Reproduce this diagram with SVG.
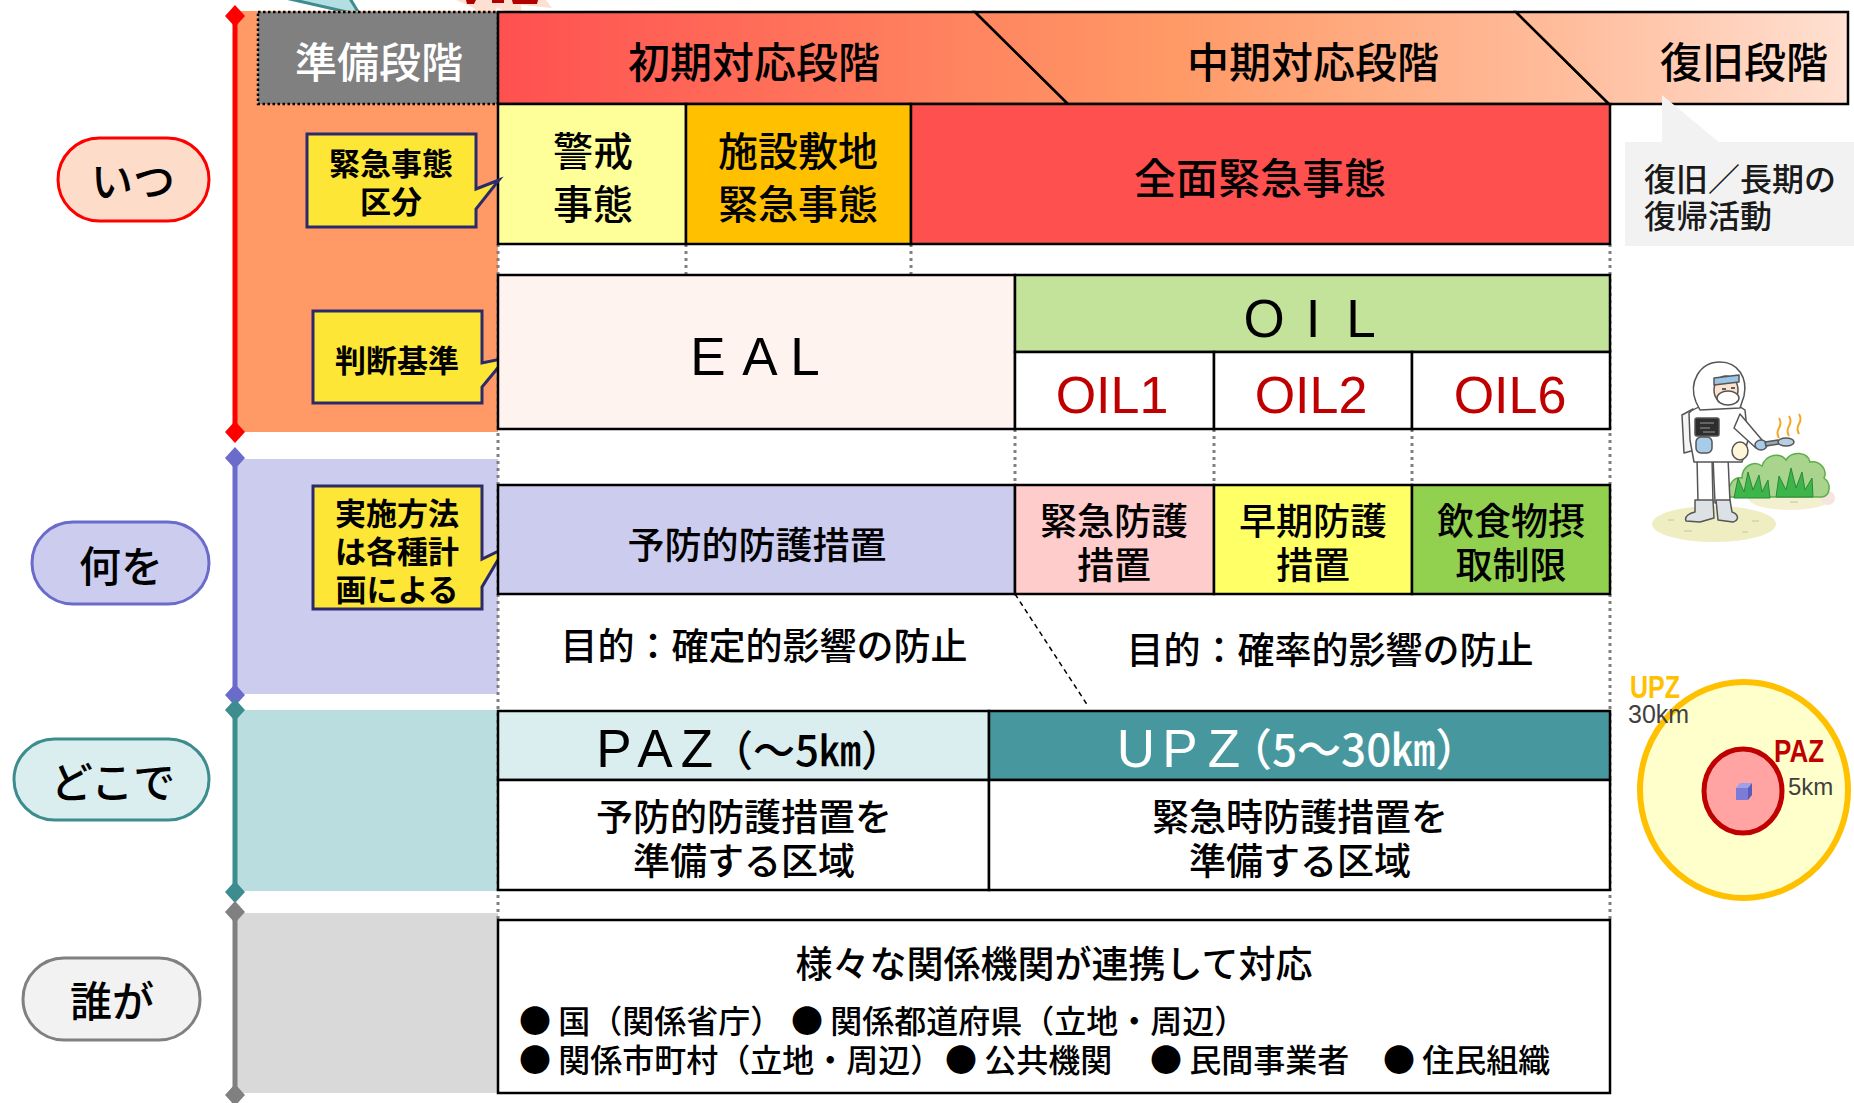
<svg xmlns="http://www.w3.org/2000/svg" width="1854" height="1103" viewBox="0 0 1854 1103">
  <defs>
    <linearGradient id="phaseGrad" gradientUnits="userSpaceOnUse" x1="498" y1="0" x2="1848" y2="0">
      <stop offset="0" stop-color="#FF5050"/>
      <stop offset="0.35" stop-color="#FF8560"/>
      <stop offset="0.5" stop-color="#FF9966"/>
      <stop offset="0.8" stop-color="#FFBE9E"/>
      <stop offset="1" stop-color="#FFE0D2"/>
    </linearGradient>
    <style>
      .jp { font-family: "Noto Sans CJK JP", "Noto Sans CJK SC", sans-serif; fill: #000; font-weight: 500; }
      .lat { font-family: "Liberation Sans", Arial, sans-serif; }
      .c { text-anchor: middle; dominant-baseline: central; }
      .box { stroke: #000; stroke-width: 2.5; }
      .callout { fill: #FDE635; stroke: #2B2B6B; stroke-width: 3; stroke-linejoin: miter; }
      .callout-text { font-size: 31px; font-weight: 700; }
      .guide { stroke: #808080; stroke-width: 3; stroke-dasharray: 3 4; fill: none; }
      .pill { stroke-width: 3; }
      .pill-text { font-size: 42px; }
      .t40 { font-size: 40px; }
      .t42 { font-size: 42px; }
      .t37 { font-size: 37px; }
      .oil { font-family: "Liberation Sans", Arial, sans-serif; font-size: 52px; fill: #C00000; text-anchor: middle; }
      .spaced { font-family: "Liberation Sans", Arial, sans-serif; font-size: 53px; text-anchor: middle; }
      .suit { stroke: #555; stroke-width: 1.5; stroke-linejoin: round; }
    </style>
  </defs>

  <rect width="1854" height="1103" fill="#FFFFFF"/>

  <!-- partial shapes cut by the top edge -->
  <g id="top-fragments">
    <polygon points="281,-3 349,-3 360,15" fill="#B3DFE2" stroke="#3D8C8E" stroke-width="3"/>
    <polygon points="456,0 474,8 488,33 497,7 522,22 521,5 552,8 546,0" fill="#FDE0D2"/>
    <path d="M466,0 h10 l-2,4 h-7 Z M492,0 h12 v3 h-12 Z M512,0 h26 l-1,4 h-24 Z" fill="#B00000"/>
  </g>

  <!-- category bands on the left -->
  <g id="band-when">
    <rect x="237" y="11" width="261" height="421" fill="#FF9966"/>
    <line x1="235" y1="16" x2="235" y2="432" stroke="#FF0000" stroke-width="5"/>
    <polygon points="235,5 245,16 235,27 225,16" fill="#FF0000"/>
    <polygon points="235,421 245,432 235,443 225,432" fill="#FF0000"/>
  </g>
  <g id="band-what">
    <rect x="237" y="459" width="261" height="235" fill="#CCCCEE"/>
    <line x1="235" y1="458" x2="235" y2="695" stroke="#6B6BCB" stroke-width="5"/>
    <polygon points="235,447 245,458 235,469 225,458" fill="#6B6BCB"/>
    <polygon points="235,684 245,695 235,706 225,695" fill="#6B6BCB"/>
  </g>
  <g id="band-where">
    <rect x="237" y="710" width="261" height="181" fill="#BADDE0"/>
    <line x1="235" y1="710" x2="235" y2="892" stroke="#3D8C8E" stroke-width="5"/>
    <polygon points="235,699 245,710 235,721 225,710" fill="#3D8C8E"/>
    <polygon points="235,881 245,892 235,903 225,892" fill="#3D8C8E"/>
  </g>
  <g id="band-who">
    <rect x="237" y="913" width="261" height="180" fill="#D9D9D9"/>
    <line x1="235" y1="912" x2="235" y2="1095" stroke="#808080" stroke-width="5"/>
    <polygon points="235,901 245,912 235,923 225,912" fill="#808080"/>
    <polygon points="235,1084 245,1095 235,1106 225,1095" fill="#808080"/>
  </g>

  <!-- question pills -->
  <g id="pill-itsu">
    <rect class="pill" x="58" y="138" width="151" height="83" rx="41.5" fill="#FDDCC9" stroke="#FF0000"/>
    <text class="jp c pill-text" x="133" y="178">いつ</text>
  </g>
  <g id="pill-naniwo">
    <rect class="pill" x="32" y="522" width="177" height="82" rx="41" fill="#CCCCEE" stroke="#6B6BCB"/>
    <text class="jp c pill-text" x="121" y="563">何を</text>
  </g>
  <g id="pill-dokode">
    <rect class="pill" x="14" y="739" width="195" height="81" rx="40.5" fill="#DAEEEF" stroke="#3D8C8E"/>
    <text class="jp c pill-text" x="113" y="779">どこで</text>
  </g>
  <g id="pill-dareka">
    <rect class="pill" x="23" y="958" width="177" height="82" rx="41" fill="#F2F2F2" stroke="#808080"/>
    <text class="jp c pill-text" x="112" y="998">誰が</text>
  </g>

  <!-- dotted guide lines and the purpose divider -->
  <g id="connectors">
    <line class="guide" x1="498" y1="244" x2="498" y2="920"/>
    <line class="guide" x1="1610" y1="244" x2="1610" y2="920"/>
    <line class="guide" x1="686" y1="244" x2="686" y2="275"/>
    <line class="guide" x1="911" y1="244" x2="911" y2="275"/>
    <line class="guide" x1="1015" y1="429" x2="1015" y2="485"/>
    <line class="guide" x1="1214" y1="429" x2="1214" y2="485"/>
    <line class="guide" x1="1412" y1="429" x2="1412" y2="485"/>
    <line x1="1015" y1="594" x2="1088" y2="706" stroke="#000" stroke-width="1.5" stroke-dasharray="5 4"/>
  </g>

  <!-- preparation stage -->
  <g id="stage-prep">
    <rect x="258" y="12" width="240" height="92" fill="#808080" stroke="#000" stroke-width="2.5" stroke-dasharray="2.5 2.5"/>
    <text class="jp c t42" x="379" y="59" style="fill:#FFFFFF">準備段階</text>
  </g>

  <!-- response phases -->
  <g id="phase-initial">
    <polygon class="box" points="498,12 975,12 1068,104 498,104" fill="url(#phaseGrad)"/>
    <text class="jp c t42" x="754" y="59">初期対応段階</text>
  </g>
  <g id="phase-middle">
    <polygon class="box" points="975,12 1516,12 1609,104 1068,104" fill="url(#phaseGrad)"/>
    <text class="jp c t42" x="1313" y="59">中期対応段階</text>
  </g>
  <g id="phase-recovery">
    <polygon class="box" points="1516,12 1848,12 1848,104 1609,104" fill="url(#phaseGrad)"/>
    <text class="jp c t42" x="1744" y="59">復旧段階</text>
  </g>

  <!-- recovery note -->
  <g id="note-recovery">
    <polygon points="1662,95 1662,143 1720,143" fill="#F2F2F2"/>
    <rect x="1625" y="142" width="229" height="104" fill="#F2F2F2"/>
    <text class="jp" x="1644" y="177" font-size="32" dominant-baseline="central" style="fill:#1A1A1A">復旧／長期の</text>
    <text class="jp" x="1644" y="214" font-size="32" dominant-baseline="central" style="fill:#1A1A1A">復帰活動</text>
  </g>

  <!-- emergency classes -->
  <g id="class-alert">
    <rect class="box" x="498" y="104" width="188" height="140" fill="#FFFF99"/>
    <text class="jp c t40" x="593" y="149">警戒</text>
    <text class="jp c t40" x="593" y="202">事態</text>
  </g>
  <g id="class-site">
    <rect class="box" x="686" y="104" width="225" height="140" fill="#FFC000"/>
    <text class="jp c t40" x="798" y="149">施設敷地</text>
    <text class="jp c t40" x="798" y="202">緊急事態</text>
  </g>
  <g id="class-general">
    <rect class="box" x="911" y="104" width="699" height="140" fill="#FF5050"/>
    <text class="jp c t42" x="1260" y="175">全面緊急事態</text>
  </g>

  <!-- callouts -->
  <g id="callout-class">
    <path class="callout" d="M307,134 H476 V189 L499,180 L476,209 V227 H307 Z"/>
    <text class="jp c callout-text" x="391" y="161">緊急事態</text>
    <text class="jp c callout-text" x="391" y="199">区分</text>
  </g>
  <g id="callout-criteria">
    <path class="callout" d="M313,311 H482 V363 L506,358 L482,387 V403 H313 Z"/>
    <text class="jp c callout-text" x="397" y="358">判断基準</text>
  </g>
  <g id="callout-method">
    <path class="callout" d="M313,486 H482 V559 L505,548 L482,587 V609 H313 Z"/>
    <text class="jp c callout-text" x="397" y="511">実施方法</text>
    <text class="jp c callout-text" x="397" y="549">は各種計</text>
    <text class="jp c callout-text" x="397" y="587">画による</text>
  </g>

  <!-- decision criteria -->
  <g id="criteria-eal">
    <rect class="box" x="498" y="275" width="517" height="154" fill="#FFF3EF"/>
    <text class="spaced" x="708 760 805" y="375">EAL</text>
  </g>
  <g id="criteria-oil">
    <rect class="box" x="1015" y="275" width="595" height="77" fill="#C3E39B"/>
    <text class="spaced" x="1264 1313 1361" y="337">OIL</text>
  </g>
  <g id="oil-1">
    <rect class="box" x="1015" y="352" width="199" height="77" fill="#FFFFFF"/>
    <text class="oil" x="1112" y="413">OIL1</text>
  </g>
  <g id="oil-2">
    <rect class="box" x="1214" y="352" width="198" height="77" fill="#FFFFFF"/>
    <text class="oil" x="1311" y="413">OIL2</text>
  </g>
  <g id="oil-6">
    <rect class="box" x="1412" y="352" width="198" height="77" fill="#FFFFFF"/>
    <text class="oil" x="1510" y="413">OIL6</text>
  </g>

  <!-- protective actions -->
  <g id="action-preventive">
    <rect class="box" x="498" y="485" width="517" height="109" fill="#CCCCEE"/>
    <text class="jp c t37" x="757" y="543">予防的防護措置</text>
  </g>
  <g id="action-urgent">
    <rect class="box" x="1015" y="485" width="199" height="109" fill="#FFCCCC"/>
    <text class="jp c t37" x="1114" y="519">緊急防護</text>
    <text class="jp c t37" x="1114" y="563">措置</text>
  </g>
  <g id="action-early">
    <rect class="box" x="1214" y="485" width="198" height="109" fill="#FFFF66"/>
    <text class="jp c t37" x="1313" y="519">早期防護</text>
    <text class="jp c t37" x="1313" y="563">措置</text>
  </g>
  <g id="action-food">
    <rect class="box" x="1412" y="485" width="198" height="109" fill="#92D050"/>
    <text class="jp c t37" x="1511" y="519">飲食物摂</text>
    <text class="jp c t37" x="1511" y="563">取制限</text>
  </g>

  <!-- purposes -->
  <g id="purpose-deterministic">
    <text class="jp c t37" x="764" y="644">目的：確定的影響の防止</text>
  </g>
  <g id="purpose-stochastic">
    <text class="jp c t37" x="1330" y="648">目的：確率的影響の防止</text>
  </g>

  <!-- zones -->
  <g id="zone-paz">
    <rect class="box" x="498" y="711" width="491" height="69" fill="#DAEEF0"/>
    <text class="spaced" x="614 655 697" y="767" font-size="54">PAZ</text>
    <text class="jp" x="711" y="747" font-size="42" dominant-baseline="central">（～5㎞）</text>
    <rect class="box" x="498" y="780" width="491" height="110" fill="#FFFFFF"/>
    <text class="jp c t37" x="744" y="815">予防的防護措置を</text>
    <text class="jp c t37" x="744" y="859">準備する区域</text>
  </g>
  <g id="zone-upz">
    <rect class="box" x="989" y="711" width="621" height="69" fill="#47989E"/>
    <text class="spaced" x="1136 1180 1224" y="767" font-size="54" fill="#FFFFFF">UPZ</text>
    <text class="jp" x="1228" y="747" font-size="44" dominant-baseline="central" style="fill:#FFFFFF">（5～30㎞）</text>
    <rect class="box" x="989" y="780" width="621" height="110" fill="#FFFFFF"/>
    <text class="jp c t37" x="1300" y="815">緊急時防護措置を</text>
    <text class="jp c t37" x="1300" y="859">準備する区域</text>
  </g>

  <!-- organisations -->
  <g id="who-box">
    <rect class="box" x="498" y="920" width="1112" height="173" fill="#FFFFFF"/>
    <text class="jp c t37" x="1054" y="962">様々な関係機関が連携して対応</text>
    <g class="jp" font-size="32">
      <text x="519" y="1019" dominant-baseline="central">● 国（関係省庁）</text>
      <text x="791" y="1019" dominant-baseline="central">● 関係都道府県（立地・周辺）</text>
      <text x="519" y="1058" dominant-baseline="central">● 関係市町村（立地・周辺）</text>
      <text x="945" y="1058" dominant-baseline="central">● 公共機関</text>
      <text x="1150" y="1058" dominant-baseline="central">● 民間事業者</text>
      <text x="1383" y="1058" dominant-baseline="central">● 住民組織</text>
    </g>
  </g>

  <!-- worker monitoring plants -->
  <g id="illustration-worker">
    <ellipse cx="1714" cy="524" rx="62" ry="18" fill="#EFEDC2"/>
    <ellipse cx="1790" cy="498" rx="42" ry="12" fill="#F3F0CF"/>
    <circle cx="1828" cy="498" r="7" fill="#F6E4DE"/>
    <path d="M1668,520 h6 M1684,531 h8 M1742,532 h6 M1752,521 h7 M1790,502 h8 M1808,495 h6" stroke="#C9C49A" stroke-width="1" fill="none"/>
    <path d="M1730,497 C1726,486 1734,476 1742,478 C1742,466 1754,460 1762,466 C1766,454 1780,452 1786,460 C1792,450 1808,452 1810,462 C1820,460 1828,470 1824,478 C1832,484 1830,496 1822,497 Z" fill="#A8D48E" stroke="#5DAE4A" stroke-width="1.5"/>
    <path d="M1734,498 L1738,478 L1744,492 L1748,472 L1753,490 L1759,475 L1762,492 L1768,480 L1770,498 Z" fill="#3DB54A" stroke="#2A8A36" stroke-width="1"/>
    <path d="M1776,497 L1779,476 L1786,490 L1791,468 L1796,488 L1802,472 L1805,490 L1812,478 L1813,497 Z" fill="#3DB54A" stroke="#2A8A36" stroke-width="1"/>
    <g stroke="#F5A623" stroke-width="2" fill="none">
      <path d="M1779,438 q-3,-5 0,-10 q3,-5 0,-10"/>
      <path d="M1789,436 q-3,-5 0,-10 q3,-5 0,-10"/>
      <path d="M1799,434 q-3,-5 0,-10 q3,-5 0,-10"/>
    </g>
    <g class="suit">
      <path d="M1682,415 L1693,409 L1695,450 L1684,453 Z" fill="#F4F4F4"/>
      <path d="M1697,458 L1712,458 L1713,503 L1698,503 Z" fill="#FFFFFF"/>
      <path d="M1713,458 L1728,458 L1730,502 L1715,503 Z" fill="#FFFFFF"/>
      <path d="M1695,500 L1713,500 L1714,518 L1700,522 L1686,521 C1684,516 1690,513 1695,512 Z" fill="#DCE1E6"/>
      <path d="M1716,500 L1730,500 L1732,512 C1738,514 1740,520 1733,522 L1718,520 Z" fill="#DCE1E6"/>
      <path d="M1689,413 C1700,402 1735,402 1745,410 L1748,440 L1742,462 L1694,462 L1690,440 Z" fill="#FFFFFF"/>
      <path d="M1740,414 L1762,440 L1756,448 L1734,428 Z" fill="#FFFFFF"/>
      <path d="M1696,402 C1688,382 1700,362 1720,362 C1738,362 1748,378 1744,396 L1740,408 L1700,410 Z" fill="#FFFFFF"/>
      <ellipse cx="1726" cy="390" rx="12" ry="14" fill="#FBE3D0"/>
      <path d="M1714,378 L1739,375 L1739,382 L1714,385 Z" fill="#9CC4E4"/>
      <ellipse cx="1728" cy="398" rx="11" ry="7" fill="#FFFFFF"/>
      <rect x="1695" y="418" width="24" height="18" rx="2" fill="#2E2E2E"/>
      <rect x="1696" y="437" width="16" height="16" rx="5" fill="#A8CBEA"/>
      <ellipse cx="1740" cy="451" rx="8" ry="9" fill="#FFF6D8"/>
      <ellipse cx="1761" cy="445" rx="6" ry="5" fill="#A8CBEA"/>
      <path d="M1765,442 L1778,440 L1779,444 L1766,446 Z" fill="#9AA8B5"/>
      <ellipse cx="1786" cy="442" rx="8" ry="4" fill="#B8CDE0"/>
    </g>
    <path d="M1700,423 h14 M1700,428 h10 M1703,432 h12" stroke="#9A9A9A" stroke-width="1.2"/>
    <path d="M1722,389 h4 M1731,388 h4" stroke="#333" stroke-width="1.5"/>
  </g>

  <!-- zone radius sketch -->
  <g id="zone-map">
    <ellipse cx="1744" cy="790" rx="104" ry="108" fill="#FFFFCC" stroke="#FFC000" stroke-width="6"/>
    <ellipse cx="1743" cy="791" rx="39" ry="42" fill="#FFA3A3" stroke="#C00000" stroke-width="5"/>
    <polygon points="1736,788 1740,783 1752,783 1748,788" fill="#A0A0E8"/>
    <polygon points="1748,788 1752,783 1752,795 1748,800" fill="#5A5AB8"/>
    <rect x="1736" y="788" width="12" height="12" fill="#7B7BD8"/>
    <text class="lat" x="1630" y="698" font-size="31" font-weight="700" fill="#FFC000" textLength="50" lengthAdjust="spacingAndGlyphs">UPZ</text>
    <text class="lat" x="1628" y="723" font-size="25" fill="#404040">30km</text>
    <text class="lat" x="1774" y="762" font-size="31" font-weight="700" fill="#C00000" textLength="50" lengthAdjust="spacingAndGlyphs">PAZ</text>
    <text class="lat" x="1788" y="795" font-size="24" fill="#404040">5km</text>
  </g>
</svg>
